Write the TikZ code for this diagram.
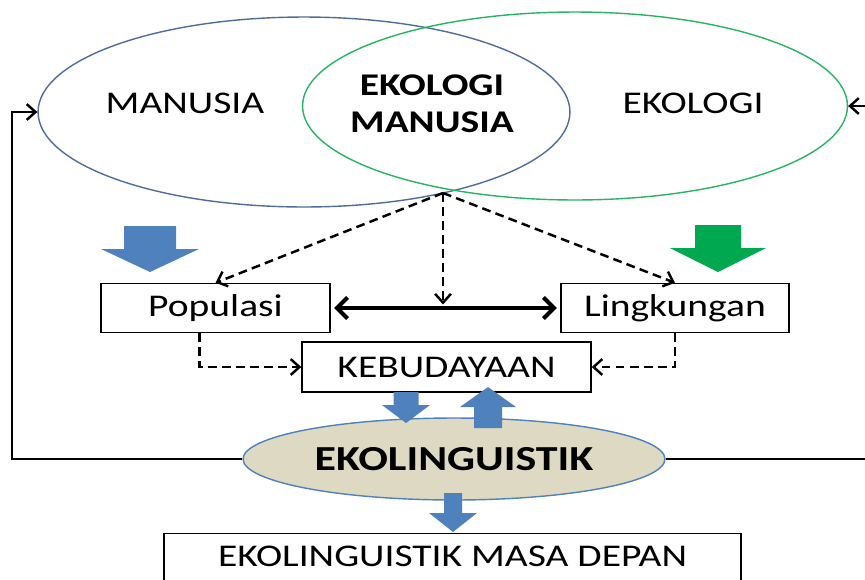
\documentclass[tikz,border=0pt]{standalone}
\usepackage{fontspec}
\setmainfont{Carlito}[FakeStretch=1.25]
\usetikzlibrary{arrows.meta, shapes.geometric, calc}

\definecolor{circblue}{RGB}{79,109,154}
\definecolor{circgreen}{RGB}{40,180,100}
\definecolor{arrowblue}{RGB}{79,129,189}
\definecolor{arrowgreen}{RGB}{0,168,80}
\definecolor{sand}{RGB}{221,217,195}

% block arrow: style, tip, length, head length, shaft half width, head half width
\newcommand{\fatarrow}[6]{%
    \begin{scope}[shift = {(#2)}]
        \fill[#1] (0,0) -- (#6,-#4) -- (#5,-#4) -- (#5,-#3) -- (-#5,-#3) -- (-#5,-#4) -- (-#6,-#4) -- cycle;
    \end{scope}}

\begin{document}
\begin{tikzpicture}[
        x = 0.02cm, y = -0.02cm,
        font = \fontsize{18}{21}\selectfont,
        >= {Straight Barb[length = 5pt, width = 9pt]},
        box/.style = {draw, line width = 0.8pt, inner sep = 0pt, minimum height = 0.98cm},
        venn/.style = {ellipse, line width = 0.8pt, inner sep = 0pt},
        link/.style = {->, dashed, dash pattern = on 5pt off 3pt, line width = 1.4pt},
        feedback/.style = {->, line width = 1.4pt}
    ]

    \useasboundingbox (0,0) rectangle (865,579);
    \clip (0,0) rectangle (865,579);

    \node[venn, draw = circblue, minimum width = 10.64cm, minimum height = 3.8cm] (man) at (304,112) {};
    \node[venn, draw = circgreen, minimum width = 10.9cm, minimum height = 3.76cm] (eco) at (575,106) {};

    \node (mantxt) at (185,103) {MANUSIA};
    \node[align = center, font = \fontsize{18}{21}\selectfont\bfseries] (ekomtxt) at (432,104) {EKOLOGI\\MANUSIA};
    \node (ekotxt) at (693,103) {EKOLOGI};

    \coordinate (meet) at (443,193);

    \node[box, minimum width = 4.58cm] (pop) at (215.5,308) {Populasi};
    \node[box, minimum width = 4.56cm] (ling) at (675,308) {Lingkungan};
    \node[box, minimum width = 5.78cm, minimum height = 1cm] (keb) at (446.5,367) {KEBUDAYAAN};

    \node[venn, draw = arrowblue, fill = sand, minimum width = 8.44cm, minimum height = 1.64cm,
          font = \fontsize{20}{24}\selectfont\bfseries] (eko) at (454,459) {EKOLINGUISTIK};

    \node[draw, line width = 0.8pt, anchor = north, minimum width = 11.54cm,
          inner sep = 0.24cm, text depth = 0.5cm] (depan) at (452.5,533) {EKOLINGUISTIK MASA DEPAN};

    \coordinate (loopL) at (12,459);
    \coordinate (loopR) at (880,459);

    \draw[link] (meet) -- (pop.north);
    \draw[link] (meet) -- (ling.north);
    \draw[link, shorten >= 2pt] (meet) -- (meet |- pop.center);

    \draw[<->, line width = 2.3pt, >= {Straight Barb[length = 6pt, width = 12pt]}, shorten <= 2pt, shorten >= 2pt]
        (pop.east) -- (ling.west);

    \draw[link] ($(pop.south)+(-16,0)$) |- (keb.west);
    \draw[link] (ling.south) |- (keb.east);

    \draw[feedback] (eko.west) -- (loopL) |- (man.west);
    \draw[feedback] (eko.east) -- (loopR) |- (eco.east);

    \fatarrow{arrowblue}{150,272}{46}{23}{26}{49}
    \fatarrow{arrowgreen}{718,272}{47}{24}{23}{48}
    \fatarrow{arrowblue}{406,423}{31}{18}{12.5}{24}
    \fatarrow{arrowblue, yscale = -1}{488,387}{41}{20}{14}{28}
    \fatarrow{arrowblue}{453,532}{39}{19}{9}{24}

\end{tikzpicture}
\end{document}
